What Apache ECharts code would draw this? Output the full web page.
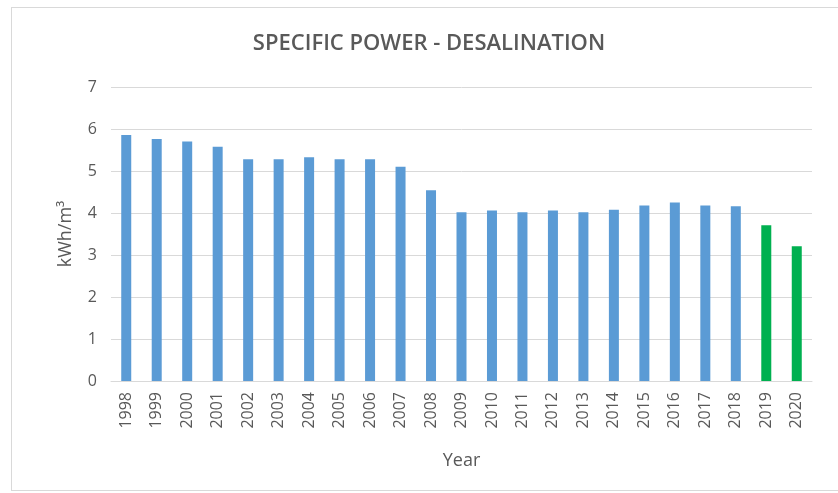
<!DOCTYPE html>
<html>
<head>
    <meta charset="utf-8">
    <title>Specific power - desalination</title>
    <script src="https://cdn.jsdelivr.net/npm/echarts@6/dist/echarts.min.js"></script>
    <style>
        body { margin: 0; background: #fff; }
        #chart { position: absolute; left: 11px; top: 7px; width: 840px; height: 484px;
                 border: 1px solid #d9d9d9; box-sizing: border-box; }
    </style>
</head>
<body>
    <div id="chart"></div>
    <script type="text/javascript">
        // data
        var years = ['1998', '1999', '2000', '2001', '2002', '2003', '2004', '2005', '2006', '2007', '2008',
            '2009', '2010', '2011', '2012', '2013', '2014', '2015', '2016', '2017', '2018', '2019', '2020'];
        var power = [5.86, 5.76, 5.70, 5.58, 5.28, 5.28, 5.33, 5.28, 5.28, 5.10, 4.54,
            4.02, 4.06, 4.02, 4.06, 4.02, 4.08, 4.18, 4.25, 4.18, 4.16, 3.71, 3.21];
        var greenYears = ['2019', '2020'];

        var gray = '#595959';

        var barData = [];
        for (var i = 0; i < years.length; i++) {
            var isGreen = greenYears.indexOf(years[i]) != -1;
            barData.push({ value: power[i], itemStyle: { color: isGreen ? '#00B050' : '#5B9BD5' } });
        }

        var myChart = echarts.init(document.getElementById('chart'));
        var option = {
            animation: false,
            title: {
                text: 'SPECIFIC POWER - DESALINATION',
                left: 412,
                top: 20,
                textAlign: 'center',
                textStyle: { color: gray, fontSize: 22, fontWeight: 600, fontFamily: 'Open Sans' }
            },
            grid: { left: 99, right: 38, top: 79, bottom: 109, containLabel: false },
            xAxis: {
                type: 'category',
                data: years,
                name: 'Year',
                nameLocation: 'middle',
                nameGap: 71,
                nameTextStyle: { color: gray, fontSize: 18, fontFamily: 'Open Sans' },
                axisLine: { lineStyle: { color: '#d9d9d9', width: 1 } },
                axisTick: { show: false },
                axisLabel: { rotate: 90, color: gray, fontSize: 16, fontFamily: 'Open Sans', margin: 11 }
            },
            yAxis: {
                type: 'value',
                min: 0,
                max: 7,
                interval: 1,
                name: 'kWh/m³',
                nameLocation: 'middle',
                nameGap: 36,
                nameTextStyle: { color: gray, fontSize: 18, fontFamily: 'Open Sans' },
                axisLine: { show: false },
                axisTick: { show: false },
                axisLabel: { color: gray, fontSize: 16, fontFamily: 'Open Sans', margin: 14 },
                splitLine: { lineStyle: { color: '#d9d9d9', width: 1 } }
            },
            series: [{
                type: 'bar',
                data: barData,
                barWidth: 10
            }]
        };
        myChart.setOption(option);
    </script>
</body>
</html>
